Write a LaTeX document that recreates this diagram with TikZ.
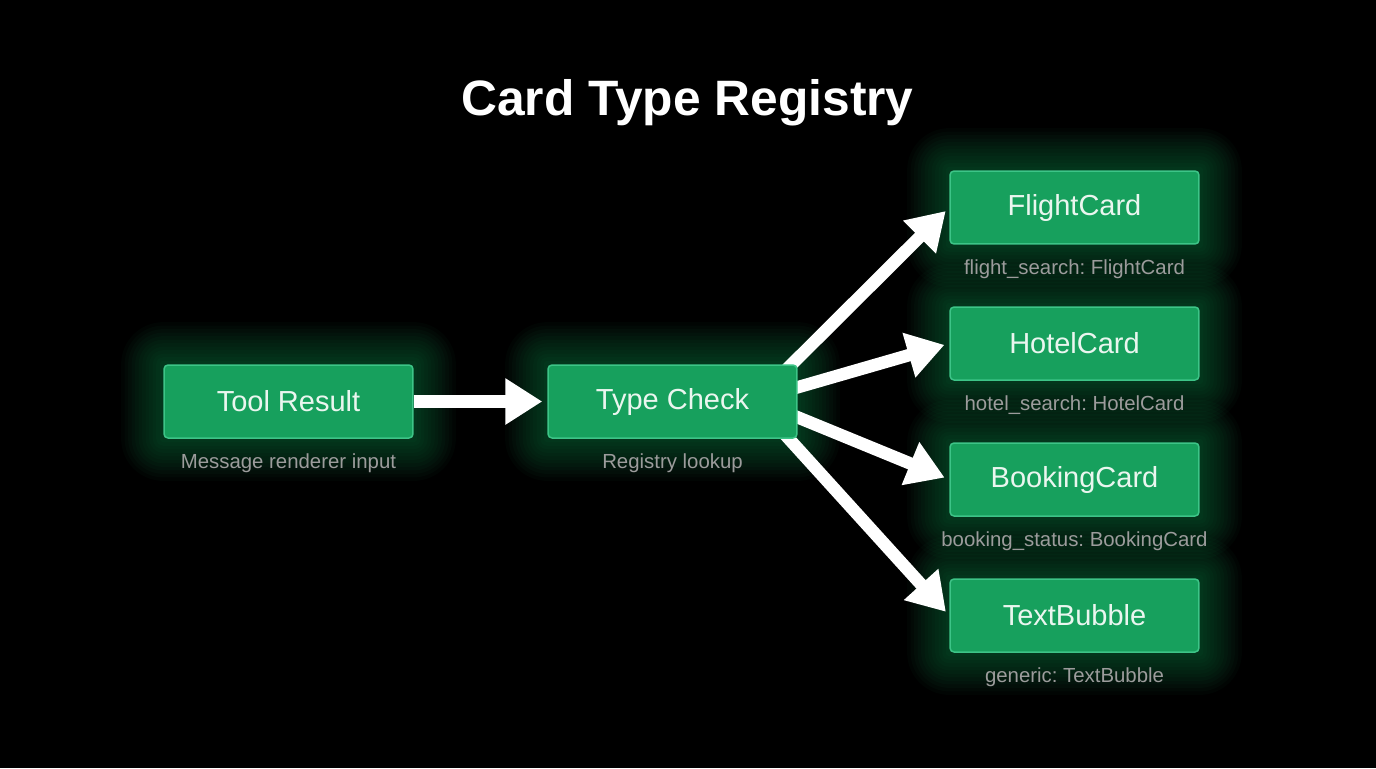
\documentclass[tikz,border=0pt]{standalone}
\usepackage{fontspec}
\setmainfont{Liberation Sans}
\usepackage{xcolor}
\usetikzlibrary{positioning}
\usetikzlibrary{arrows.meta}
\usetikzlibrary{backgrounds}
\definecolor{cardgreen}{HTML}{17A05D}
\definecolor{cardedge}{HTML}{3DC487}
\definecolor{cardtext}{HTML}{EAF6EF}
\definecolor{subgray}{HTML}{9C9C9C}
\definecolor{glowgreen}{HTML}{1FA85E}
\frenchspacing

\begin{document}
\begin{tikzpicture}[x=0.02cm, y=-0.02cm,
		card/.style={rectangle, rounded corners=0.08cm, fill=cardgreen, draw=cardedge, line width=0.03cm, minimum width=4.98cm, minimum height=1.46cm, text=cardtext, font=\fontsize{16.5}{20}\selectfont},
		sub/.style={text=subgray, inner sep=0pt, font=\fontsize{11.6}{14}\selectfont},
		flow/.style={draw=white, line width=0.25cm, -{Triangle[length=0.74cm,width=0.88cm]}, shorten >=0.1cm}]
		\useasboundingbox (0,0) rectangle (1376,768);
		\node[text=white, inner sep=0pt, font=\bfseries\fontsize{28.3}{34}\selectfont, anchor=base] (title) at (687.5,115) {Card Type Registry};
		\node[card] (tr) at (288.5,401.5) {Tool Result};
		\node[card] (tc) at (672.5,401.5) {Type Check};
		\node[card] (fc) at (1074.5,207.5) {FlightCard};
		\node[card] (hc) at (1074.5,343.5) {HotelCard};
		\node[card] (bc) at (1074.5,479.5) {BookingCard};
		\node[card] (tb) at (1074.5,615.5) {TextBubble};
		\node[sub, below=0.6cm of tr, anchor=base] (trsub) {Message renderer input};
		\node[sub, below=0.6cm of tc, anchor=base] (tcsub) {Registry lookup};
		\node[sub, below=0.6cm of fc, anchor=base] (fcsub) {flight\_search: FlightCard};
		\node[sub, below=0.6cm of hc, anchor=base] (hcsub) {hotel\_search: HotelCard};
		\node[sub, below=0.6cm of bc, anchor=base] (bcsub) {booking\_status: BookingCard};
		\node[sub, below=0.6cm of tb, anchor=base] (tbsub) {generic: TextBubble};
		\begin{scope}[on background layer]
			\fill[black] (0,0) rectangle (1376,768);
			\foreach \n in {tr,tc,fc,hc,bc,tb}
				\foreach \g in {2,4,...,24}
					\fill[glowgreen, opacity=0.035, rounded corners=\g pt] ([shift={(-\g pt,-\g pt)}]\n.south west) rectangle ([shift={(\g pt,\g pt)}]\n.north east);
			\draw[flow] (tr) -- (tc);
			\draw[flow] ([shift={(-0.3cm,-0.18cm)}]tc.north east) -- (fc.west);
			\draw[flow] ([shift={(-0.26cm,0.21cm)}]tc.east) -- (hc.west);
			\draw[flow] ([shift={(-0.26cm,-0.21cm)}]tc.east) -- (bc.west);
			\draw[flow] ([shift={(-0.34cm,0.18cm)}]tc.south east) -- (tb.west);
		\end{scope}
	\end{tikzpicture}
\end{document}
